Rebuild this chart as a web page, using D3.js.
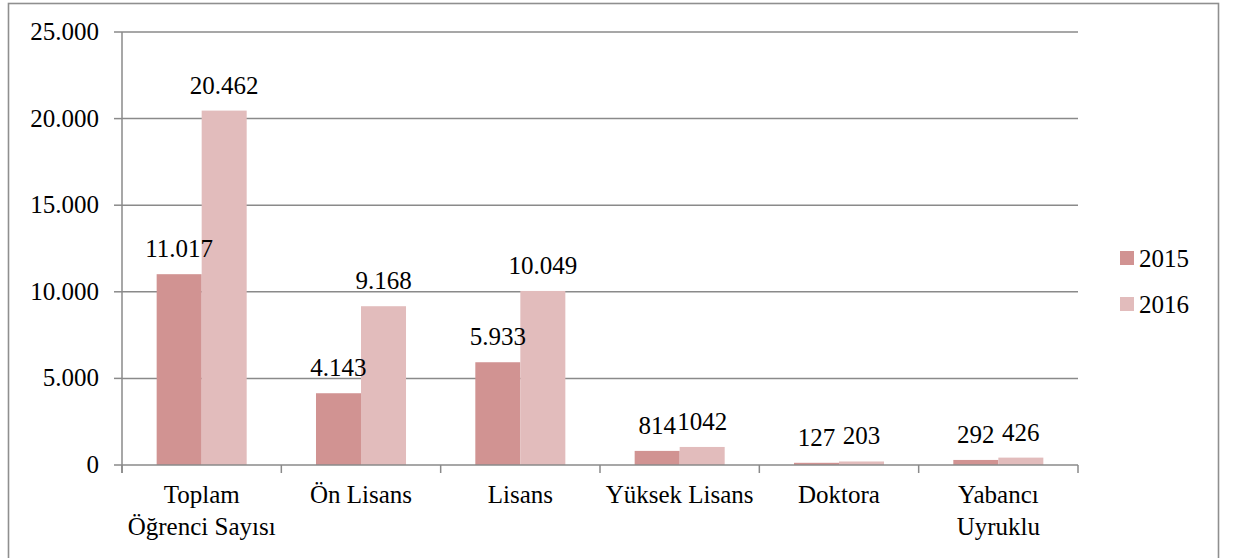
<!DOCTYPE html>
<html>
<head>
<meta charset="utf-8">
<script src="https://cdn.jsdelivr.net/npm/d3@7"></script>
</head>
<body style="margin:0">
<svg></svg>
<script>
var width = 1234;
var height = 558;

var categories = [
  ["Toplam", "Öğrenci Sayısı"],
  ["Ön Lisans"],
  ["Lisans"],
  ["Yüksek Lisans"],
  ["Doktora"],
  ["Yabancı", "Uyruklu"]
];
var years = ["2015", "2016"];
var values2015 = [11017, 4143, 5933, 814, 127, 292];
var values2016 = [20462, 9168, 10049, 1042, 203, 426];
var labels2015 = ["11.017", "4.143", "5.933", "814", "127", "292"];
var labels2016 = ["20.462", "9.168", "10.049", "1042", "203", "426"];
var yTicks = [0, 5000, 10000, 15000, 20000, 25000];
var yTickLabels = ["0", "5.000", "10.000", "15.000", "20.000", "25.000"];

var colors = { "2015": "#d19392", "2016": "#e2bcbc" };
var gridColor = "#8a8a8a";

var margin = { left: 122, right: 1078, top: 32, bottom: 465 };

var rows = categories.map((c, i) => ({
  key: i,
  lines: c,
  "2015": values2015[i],
  "2016": values2016[i],
  lab2015: labels2015[i],
  lab2016: labels2016[i]
}));

var svg = d3.select("svg")
  .attr("width", width)
  .attr("height", height)
  .style("font-family", "'Times New Roman'");

svg.append("rect")
  .attr("width", width)
  .attr("height", height)
  .attr("fill", "#fff");

// outer frame, bottom edge runs past the picture
svg.append("rect")
  .attr("x", 8.5)
  .attr("y", 3.5)
  .attr("width", 1210)
  .attr("height", 620)
  .attr("fill", "none")
  .attr("stroke", "#8f8f8f")
  .attr("stroke-width", 1.6);

var x0 = d3.scaleBand()
  .domain(rows.map(d => d.key))
  .range([margin.left, margin.right])
  .paddingInner(0.435)
  .paddingOuter(0.2175);

var x1 = d3.scaleBand()
  .domain(years)
  .range([0, x0.bandwidth()]);

var y = d3.scaleLinear()
  .domain([0, 25000])
  .range([margin.bottom, margin.top]);

function addText(x, yPos, anchor, txt) {
  svg.append("text")
    .attr("x", x)
    .attr("y", yPos)
    .attr("text-anchor", anchor)
    .style("font-family", "'Times New Roman'")
    .style("font-size", "25px")
    .text(txt);
}

// gridlines
svg.append("g")
  .selectAll("line")
  .data(yTicks.filter(t => t > 0))
  .join("line")
    .attr("x1", margin.left)
    .attr("x2", margin.right)
    .attr("y1", d => y(d))
    .attr("y2", d => y(d))
    .attr("stroke", gridColor)
    .attr("stroke-width", 1.5);

// y axis
var yAxis = svg.append("g");
yAxis.append("line")
  .attr("x1", margin.left).attr("x2", margin.left)
  .attr("y1", margin.top).attr("y2", margin.bottom + 8)
  .attr("stroke", gridColor).attr("stroke-width", 1.5);
yAxis.selectAll(".tick")
  .data(yTicks)
  .join("line")
    .attr("class", "tick")
    .attr("x1", margin.left - 8).attr("x2", margin.left)
    .attr("y1", d => y(d)).attr("y2", d => y(d))
    .attr("stroke", gridColor).attr("stroke-width", 1.5);
yTicks.forEach((t, i) => addText(99, y(t) + 8, "end", yTickLabels[i]));

// bars
var groups = svg.append("g")
  .selectAll("g")
  .data(rows)
  .join("g")
    .attr("transform", d => "translate(" + x0(d.key) + ",0)");

groups.selectAll("rect")
  .data(d => years.map(yr => ({ year: yr, value: d[yr] })))
  .join("rect")
    .attr("x", d => x1(d.year))
    .attr("width", x1.bandwidth())
    .attr("y", d => y(d.value))
    .attr("height", d => y(0) - y(d.value))
    .attr("fill", d => colors[d.year]);

// x axis
var xAxis = svg.append("g");
xAxis.append("line")
  .attr("x1", margin.left).attr("x2", margin.right)
  .attr("y1", margin.bottom).attr("y2", margin.bottom)
  .attr("stroke", gridColor).attr("stroke-width", 1.5);
var step = x0.step();
d3.range(categories.length + 1).forEach(i => {
  var xx = margin.left + i * step;
  xAxis.append("line")
    .attr("x1", xx).attr("x2", xx)
    .attr("y1", margin.bottom).attr("y2", margin.bottom + 8)
    .attr("stroke", gridColor).attr("stroke-width", 1.5);
});
rows.forEach(d => {
  var cx = x0(d.key) + x0.bandwidth() / 2;
  d.lines.forEach((ln, j) => addText(cx, 503 + j * 32, "middle", ln));
});

// data labels
rows.forEach(d => {
  years.forEach(yr => {
    var cx = x0(d.key) + x1(yr) + x1.bandwidth() / 2;
    addText(cx, y(d[yr]) - 17, "middle", d["lab" + yr]);
  });
});

// legend
years.forEach((yr, i) => {
  svg.append("rect")
    .attr("x", 1120)
    .attr("y", 251 + i * 46)
    .attr("width", 14)
    .attr("height", 14)
    .attr("fill", colors[yr]);
  addText(1139, 267 + i * 46, "start", yr);
});
</script>
</body>
</html>
